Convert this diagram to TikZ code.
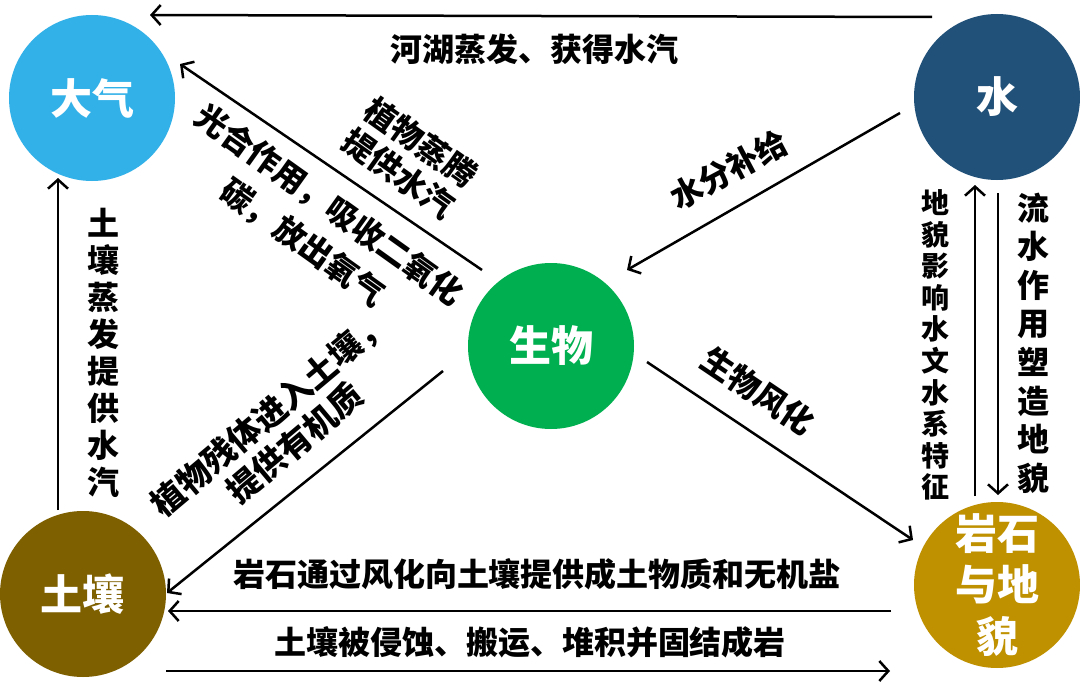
\documentclass[tikz,border=0pt]{standalone}
\usepackage{fontspec}
\setmainfont{Noto Sans CJK SC}
\usetikzlibrary{arrows.meta,calc}
\definecolor{cdq}{RGB}{50,176,232}
\definecolor{cshui}{RGB}{33,81,120}
\definecolor{csw}{RGB}{0,176,80}
\definecolor{ctr}{RGB}{127,96,0}
\definecolor{cys}{RGB}{191,144,0}
\tikzset{
  circ/.style={circle,minimum size=166pt,inner sep=0pt,text=white,align=center,
    font=\bfseries\fontsize{42}{51.5}\selectfont},
  lbl/.style={inner sep=0pt,align=center,text=black,font=\bfseries\fontsize{32}{38}\selectfont},
  arr/.style={draw=black,line width=2.5pt,-{Straight Barb[length=9pt,width=20pt,line width=2.5pt]}}
}
\begin{document}
\begin{tikzpicture}[x=1pt,y=-1pt]
\useasboundingbox (0,0) rectangle (1080,693);
\fill[white] (0,0) rectangle (1080,693);
% circles
\node[circ,fill=cdq]   (dq)   at (92,98)   {大气};
\node[circ,fill=cshui] (shui) at (997,97)  {水};
\node[circ,fill=csw]   (sw)   at (551,346) {生物};
\node[circ,fill=ctr]   (tr)   at (83,594)  {土壤};
\node[circ,fill=cys]   (ys)   at (997,585) {\raisebox{0pt}{}岩石\\与地\\貌};
% connectors
\draw[arr] ($(shui.center)+(-65,-80)$) -- ($(dq.center)+(58,-83)$);
\draw[arr] ($(sw.center)+(-69,-76)$) -- ($(dq.center)+(88,-34)$);
\draw[arr] ($(shui.center)+(-97,16)$) -- ($(sw.center)+(76,-76)$);
\draw[arr] ($(sw.center)+(96,16)$) -- ($(ys.center)+(-84,-45)$);
\draw[arr] ($(sw.center)+(-108,25)$) -- ($(tr.center)+(84,-1)$);
\draw[arr] ($(tr.center)+(-25,-84)$) -- ($(dq.center)+(-34,80)$);
\draw[arr] ($(ys.center)+(-106,26)$) -- ($(tr.center)+(85,17)$);
\draw[arr] ($(tr.center)+(83,77)$) -- ($(ys.center)+(-107,86)$);
\draw[arr] ($(ys.center)+(-22,-89)$) -- ($(shui.center)+(-22,88)$);
\draw[arr] ($(shui.center)+(1,96)$) -- ($(ys.center)+(1,-90)$);
% labels
\node[lbl] (t1) at (534,49) {河湖蒸发、获得水汽};
\node[lbl,rotate=-35.5] (t2) at (410,158) {植物蒸腾\\提供水汽};
\node[lbl,rotate=-35.5,font=\bfseries\fontsize{32}{46}\selectfont] (t3) at (316,224) {光合作用，吸收二氧化\\碳，放出氧气};
\node[lbl,rotate=28] (t4) at (729,170) {水分补给};
\node[lbl,rotate=-34] (t5) at (758,391) {生物风化};
\node[lbl,rotate=40,font=\bfseries\fontsize{33}{39}\selectfont] (t6) at (282,428) {植物残体进入土壤，\\提供有机质};
\node[lbl] (t7) at (537,574) {岩石通过风化向土壤提供成土物质和无机盐};
\node[lbl] (t8) at (530,642) {土壤被侵蚀、搬运、堆积并固结成岩};
\node[lbl,font=\bfseries\fontsize{32}{37}\selectfont] (t9) at (103,353) {土\\壤\\蒸\\发\\提\\供\\水\\汽};
\node[lbl,font=\bfseries\fontsize{28}{31.6}\selectfont] (t10) at (935,345) {地\\貌\\影\\响\\水\\文\\水\\系\\特\\征};
\node[lbl,font=\bfseries\fontsize{32}{38.6}\selectfont] (t11) at (1033,343) {流\\水\\作\\用\\塑\\造\\地\\貌};
\end{tikzpicture}
\end{document}
